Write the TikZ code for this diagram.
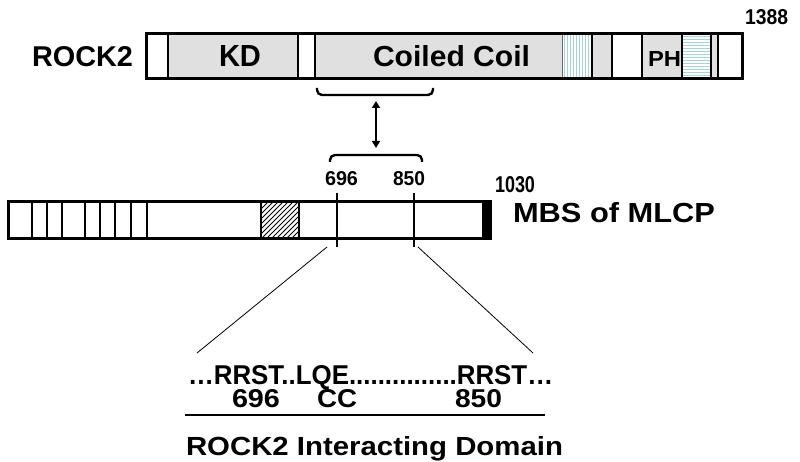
\documentclass[tikz,border=0pt]{standalone}
\usepackage{fontspec}
\setmainfont{Liberation Sans}
\usepackage{graphicx}
\usetikzlibrary{arrows.meta}
\newcommand\fitt[3]{\resizebox{#1pt}{#2pt}{\bfseries #3}}
\definecolor{segfill}{HTML}{E0E0E0}
\definecolor{stripe}{HTML}{9FD6D6}
\tikzset{
  lbl/.style={inner sep=0pt, outer sep=0pt, anchor=base},
  lblw/.style={inner sep=0pt, outer sep=0pt, anchor=base west},
  outline/.style={line width=3pt},
  divider/.style={line width=1.6pt},
  brace/.style={line width=2.4pt, rounded corners=5pt},
  funnel/.style={line width=0.8pt},
}
\begin{document}
\begin{tikzpicture}[x=1pt,y=-1pt]
\useasboundingbox (0,0) rectangle (800,462);
% ---------- ROCK2 bar ----------
\fill[white] (146,34) rectangle (742,79);
\foreach \a/\b in {168/298,315/562,592/612,642/682,711/718}
  \fill[segfill] (\a,34) rectangle (\b,79);
\foreach \x in {564,567,...,591} \draw[stripe, line width=0.8pt] (\x,34) -- (\x,79);
\foreach \y in {36,39,...,78} \draw[stripe, line width=0.8pt] (682,\y) -- (711,\y);
\foreach \x in {168,298,315,592,612,642,682,711,718}
  \draw[divider] (\x,34) -- (\x,79);
\draw[line width=0.8pt, black!60] (562,34) -- (562,79);
\draw[outline] (146,34) rectangle (742,79);
\node[lblw] (rock) at (32,67) {\fitt{101}{20}{ROCK2}};
\node[lbl] (kd) at (240,67) {\fitt{42}{21}{KD}};
\node[lbl] (cc) at (451.5,67) {\fitt{157}{21}{Coiled Coil}};
\node[lbl] (ph) at (664.5,67) {\fitt{33}{15}{PH}};
\node[lbl] (n1388) at (766.5,25) {\fitt{43}{15}{1388}};
% ---------- braces and arrow ----------
\draw[brace] (317,88) -- (317,95) -- (433,95) -- (433,88);
\draw[brace] (330,162) -- (330,155) -- (422,155) -- (422,162);
\coordinate (atop) at (376,101);
\coordinate (abot) at (376,148);
\draw[line width=2pt, {Triangle[length=7pt,width=8pt]}-{Triangle[length=7pt,width=8pt]}] (atop) -- (abot);
% ---------- MBS bar ----------
\fill[white] (8,201) rectangle (490,239);
\begin{scope}
  \clip (261,201) rectangle (299,239);
  \foreach \s in {-40,-35,...,40}
    \draw[line width=1pt] (261+\s,239) -- (299+\s,201);
\end{scope}
\foreach \x in {32,47,62,85,100,115,131,147,261,299}
  \draw[divider] (\x,201) -- (\x,239);
\draw[outline] (8.5,201.5) rectangle (484,238.5);
\fill (482,200) rectangle (492,240);
\coordinate (m696t) at (337,193);
\coordinate (m696b) at (337,247);
\coordinate (m850t) at (414,193);
\coordinate (m850b) at (414,247);
\draw[line width=2pt] (m696t) -- (m696b);
\draw[line width=2pt] (m850t) -- (m850b);
\node[lbl] (l696) at (341.5,186) {\fitt{33}{14}{696}};
\node[lbl] (l850) at (409,186) {\fitt{32}{14}{850}};
\node[lbl] (n1030) at (515,193) {\fitt{40}{16}{1030}};
\node[lblw] (mbs) at (513,223) {\fitt{202}{20}{MBS of MLCP}};
% ---------- zoom lines ----------
\coordinate (fl1) at (327,247);
\coordinate (fl2) at (197,353);
\coordinate (fr1) at (418,247);
\coordinate (fr2) at (533,353);
\draw[funnel] (fl1) -- (fl2);
\draw[funnel] (fr1) -- (fr2);
% ---------- sequence ----------
\node[lblw] (seq) at (188,384) {\fitt{365}{19}{…RRST..LQE...............RRST…}};
\node[lbl] (s696) at (256,407) {\fitt{48}{18}{696}};
\node[lbl] (scc) at (337,407) {\fitt{40}{18}{CC}};
\node[lbl] (s850) at (478.5,407) {\fitt{47}{18}{850}};
\coordinate (dl) at (185,415);
\coordinate (dr) at (545,415);
\draw[line width=1.5pt] (dl) -- (dr);
\node[lblw] (dom) at (186,455) {\fitt{377}{19}{ROCK2 Interacting Domain}};
\end{tikzpicture}
\end{document}
